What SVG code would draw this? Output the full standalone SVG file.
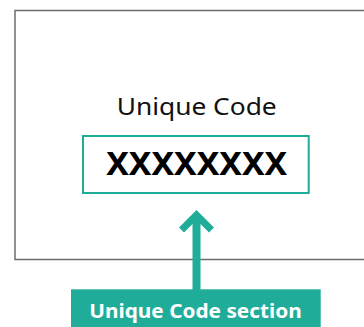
<svg xmlns="http://www.w3.org/2000/svg" width="364" height="327" viewBox="0 0 364 327">
  <style>
    .teal { fill: #1fad99; }
    .t { font-family: "Noto Sans", "Open Sans", "Liberation Sans", sans-serif; text-anchor: middle; }
  </style>
  <rect width="364" height="327" fill="#ffffff"/>
  <g id="card">
    <rect x="15" y="10.5" width="360" height="249" fill="#ffffff" stroke="#6e6e6e" stroke-width="1.5"/>
    <text class="t" x="196.7" y="115" font-size="23" fill="#111111" textLength="160" lengthAdjust="spacingAndGlyphs">Unique Code</text>
  </g>
  <g id="code-box">
    <rect x="83" y="136" width="225.7" height="57" fill="#ffffff" stroke="#1fad99" stroke-width="2"/>
    <text class="t" x="196.7" y="175" font-size="32" font-weight="bold" fill="#000000" textLength="181" lengthAdjust="spacingAndGlyphs">XXXXXXXX</text>
  </g>
  <g id="connectors">
    <polygon class="teal" points="196.5,210 214,227.5 209,232.5 200.5,224 200.5,290 192.5,290 192.5,224 184,232.5 179,227.5"/>
  </g>
  <g id="label">
    <rect class="teal" x="71" y="289.3" width="249.7" height="38"/>
    <text class="t" x="195.5" y="318.3" font-size="20" font-weight="bold" fill="#ffffff" textLength="212.4" lengthAdjust="spacingAndGlyphs">Unique Code section</text>
  </g>
</svg>
